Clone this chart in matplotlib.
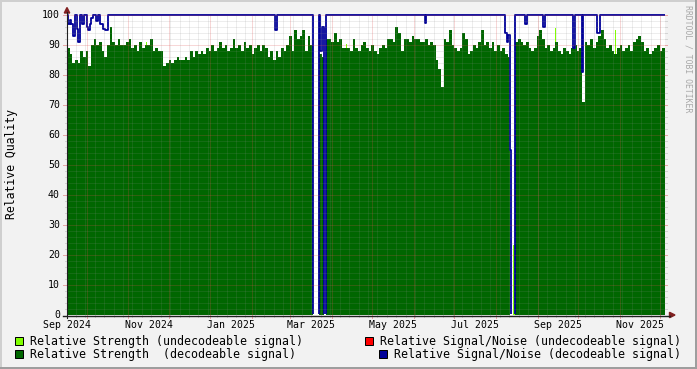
import datetime as dt
import numpy as np
import matplotlib
matplotlib.use("Agg")
import matplotlib.pyplot as plt
import matplotlib.dates as mdates
from matplotlib.lines import Line2D
from matplotlib.patches import Polygon, Rectangle
from matplotlib.transforms import Bbox, TransformedBbox
from matplotlib.transforms import blended_transform_factory as blend

W, H = 697, 369

# time window shown by the graph
t_start = dt.datetime(2024, 9, 16, 9, 36)
span_days = 444.3

# stretches with data, in days since t_start (gaps in between read as 0)
seg_bounds = [(0.0, 182.8), (187.6, 191.3), (192.4, 329.5), (333.1, 444.3)]

# relative strength (decodeable), evenly spaced samples inside each stretch
strength_1 = [89, 87, 84, 85, 84, 88, 86, 88, 83, 90, 92, 90, 91, 88, 86, 90, 96, 91, 90, 92,
              90, 90, 91, 92, 89, 90, 88, 91, 89, 90, 90, 92, 88, 89, 88, 88, 83, 84, 85, 84,
              85, 86, 85, 85, 86, 85, 88, 86, 88, 87, 88, 87, 89, 88, 90, 88, 89, 91, 89, 90,
              88, 89, 92, 89, 90, 88, 91, 89, 90, 87, 89, 90, 88, 90, 89, 86, 88, 85, 88, 86,
              89, 88, 90, 93, 88, 95, 92, 93, 95, 88, 93, 90]
strength_2 = [87, 86]
strength_3 = [92, 92, 91, 94, 91, 92, 89, 89, 89, 88, 92, 89, 88, 90, 91, 89, 88, 90, 88, 87,
              89, 90, 89, 92, 92, 91, 96, 94, 88, 92, 92, 91, 93, 92, 92, 91, 91, 92, 90, 91,
              90, 85, 82, 76, 92, 91, 95, 90, 89, 88, 89, 94, 92, 87, 88, 90, 89, 91, 95, 90,
              91, 89, 91, 88, 90, 88, 89, 87, 86]
strength_4 = [91, 92, 91, 90, 91, 89, 88, 89, 93, 95, 92, 89, 90, 88, 89, 91, 88, 87, 89, 88,
              87, 89, 90, 88, 89, 71, 91, 90, 92, 89, 91, 93, 95, 92, 89, 90, 88, 87, 89, 90,
              88, 89, 90, 88, 91, 92, 93, 91, 88, 89, 87, 88, 89, 90, 88, 89]

# relative strength (undecodeable), only a few short blips
weak_days = [58.5, 207.3, 331.3, 362.5, 407.1]
weak_width = [1.0, 1.0, 2.3, 1.0, 1.0]
weak_vals = [91, 90.5, 23.3, 95.6, 95]

# relative signal/noise (decodeable), value changes: day since t_start -> value
snr_days = [0.0, 1.0, 2.2, 3.3, 4.8, 5.9, 7.4, 8.4, 9.7, 10.9, 12.6, 14.6, 15.6, 17.1, 17.8,
            19.5, 21.5, 23.3, 24.5, 26.5, 28.2, 30.7, 154.9, 156.0, 182.8, 187.4, 188.3,
            189.2, 191.3, 192.4, 266.0, 267.1, 325.6, 326.7, 327.9, 329.5, 330.2, 333.1,
            340.3, 341.8, 353.6, 354.8, 375.9, 377.4, 382.6, 383.7, 393.8, 396.0]
snr_vals = [100, 97, 98.5, 97, 93, 100, 95.5, 91, 100, 97, 100, 96, 95, 97, 99,
            100, 98, 100, 97, 95.5, 95, 100, 95, 100, 0, 100, 88,
            96, 0, 100, 97.5, 100, 94, 91, 93.5, 55, 0, 100,
            97, 100, 96, 100, 89, 100, 81, 100, 94, 100]

# axis labels
label_months = [(2024, 9), (2024, 11), (2025, 1), (2025, 3), (2025, 5), (2025, 7), (2025, 9), (2025, 11)]
y_ticks = list(range(0, 101, 10))

DKGREEN = "#006600"
LTGREEN = "#80ff00"
RED = "#ff0000"
BLUE = "#000099"
MINOR = (0.56, 0.56, 0.56, 0.3)
MAJOR = (0.87, 0.31, 0.31, 0.45)
MONO = "DejaVu Sans Mono"

def fx(x):
    return x / W

def fy(y):
    return 1 - y / H

fig = plt.figure(figsize=(W / 100, H / 100), dpi=100, facecolor="#f2f2f2")
ax = fig.add_axes([fx(67), fy(315), 598 / W, 300 / H])
ax.set_facecolor("white")
for s in ax.spines.values():
    s.set_visible(False)
ax.set_xticks([])
ax.set_yticks([])

T0 = mdates.date2num(t_start)
ax.set_xlim(T0, T0 + span_days)
ax.set_ylim(0, 100)

# undecodeable strength first, decodeable drawn over it
ax.bar(T0 + np.array(weak_days), weak_vals, width=weak_width, align="edge",
       color=LTGREEN, lw=0, zorder=1)
for (a, b), vals in zip(seg_bounds, [strength_1, strength_2, strength_3, strength_4]):
    edges = T0 + np.linspace(a, b, len(vals) + 1)
    ax.stairs(vals, edges, fill=True, color=DKGREEN, lw=0, zorder=2)

sx = T0 + np.array(snr_days + [span_days])
sy = snr_vals + [snr_vals[-1]]
snr_line, = ax.plot(sx, sy, drawstyle="steps-post", color=BLUE, lw=1.3, zorder=3)
# let the line poke over the top edge, but hide the part lying on the x axis
snr_line.set_clip_box(TransformedBbox(Bbox([[0, 0.004], [1, 1.02]]), ax.transAxes))

# grid, drawn over the data like rrdtool does
xgrid_tf = blend(ax.transData, fig.transFigure)
ygrid_tf = blend(fig.transFigure, ax.transData)
for v in range(2, 101, 2):
    c = MAJOR if v % 10 == 0 else MINOR
    ax.axhline(v, color=c, lw=0.72, dashes=(1, 1), zorder=4)
    ext = 4 if v % 10 == 0 else 2
    fig.add_artist(Line2D([fx(67 - ext), fx(67)], [v, v], transform=ygrid_tf, color=c, lw=0.72))
    fig.add_artist(Line2D([fx(665), fx(665 + 2)], [v, v], transform=ygrid_tf, color=c, lw=0.72))

week0 = dt.datetime(2024, 9, 16)
wk = week0
while wk < t_start + dt.timedelta(days=span_days):
    if wk > t_start:
        ax.axvline(mdates.date2num(wk), color=MINOR, lw=0.72, dashes=(1, 1), zorder=4)
        fig.add_artist(Line2D([mdates.date2num(wk)] * 2, [fy(315), fy(317)], transform=xgrid_tf,
                              color=MINOR, lw=0.72))
    wk += dt.timedelta(days=7)

for yr, mo in [(2024, m) for m in range(10, 13)] + [(2025, m) for m in range(1, 13)]:
    t = mdates.date2num(dt.datetime(yr, mo, 1))
    ax.axvline(t, color=MAJOR, lw=0.72, dashes=(1, 1), zorder=4)
    fig.add_artist(Line2D([t, t], [fy(315), fy(318)], transform=xgrid_tf, color=MAJOR, lw=0.72))

# axes with arrow heads
AXIS = "#202020"
ARROW = "#802020"
fig.add_artist(Line2D([fx(63), fx(670)], [fy(315.5), fy(315.5)], color=AXIS, lw=1.0))
fig.add_artist(Line2D([fx(67), fx(67)], [fy(318), fy(12)], color=AXIS, lw=0.8))
fig.add_artist(Polygon([[fx(67), fy(7.5)], [fx(64.3), fy(13)], [fx(69.7), fy(13)]],
                       closed=True, color=ARROW, transform=fig.transFigure))
fig.add_artist(Polygon([[fx(675), fy(315)], [fx(669.5), fy(312.3)], [fx(669.5), fy(317.7)]],
                       closed=True, color=ARROW, transform=fig.transFigure))

# tick labels
for v in y_ticks:
    fig.text(fx(60), 0, str(v), transform=ygrid_tf, ha="right", va="center",
             family=MONO, size=7.1).set_y(v)
for yr, mo in label_months:
    t = mdates.date2num(dt.datetime(yr, mo, 1) + dt.timedelta(days=15.4))
    fig.text(t, fy(327.5), dt.date(yr, mo, 1).strftime("%b %Y"), transform=xgrid_tf,
             ha="center", va="baseline", family=MONO, size=7.1)

fig.text(fx(12), fy(164), "Relative Quality", rotation=90, ha="center", va="center",
         family=MONO, size=8.3)
fig.text(fx(688), fy(59), "RRDTOOL / TOBI OETIKER", rotation=270, ha="center", va="center",
         family=MONO, size=5.9, color="#a8a8a8")

# legend
legend = [
    (15, 336.7, 30, 345, LTGREEN, "Relative Strength (undecodeable signal)"),
    (365, 336.7, 380, 345, RED, "Relative Signal/Noise (undecodeable signal)"),
    (15, 350, 30, 358.3, DKGREEN, "Relative Strength  (decodeable signal)"),
    (379.3, 350, 394, 358.3, BLUE, "Relative Signal/Noise (decodeable signal)"),
]
for bx, by, tx, ty, col, txt in legend:
    fig.add_artist(Rectangle((fx(bx), fy(by + 8)), 8 / W, 8 / H, facecolor=col,
                             edgecolor="black", lw=0.72, transform=fig.transFigure))
    fig.text(fx(tx), fy(ty), txt, ha="left", va="baseline", family=MONO, size=8.4)

# rrdtool style frame
fig.add_artist(Line2D([0, 1], [fy(0.75), fy(0.75)], color="#cfcfcf", lw=1.44))
fig.add_artist(Line2D([fx(0.75), fx(0.75)], [0, 1], color="#cfcfcf", lw=1.44))
fig.add_artist(Line2D([0, 1], [fy(368.25), fy(368.25)], color="#9e9e9e", lw=1.44))
fig.add_artist(Line2D([fx(696.25), fx(696.25)], [0, 1], color="#9e9e9e", lw=1.44))

fig.savefig("out.png", dpi=100, facecolor=fig.get_facecolor())
